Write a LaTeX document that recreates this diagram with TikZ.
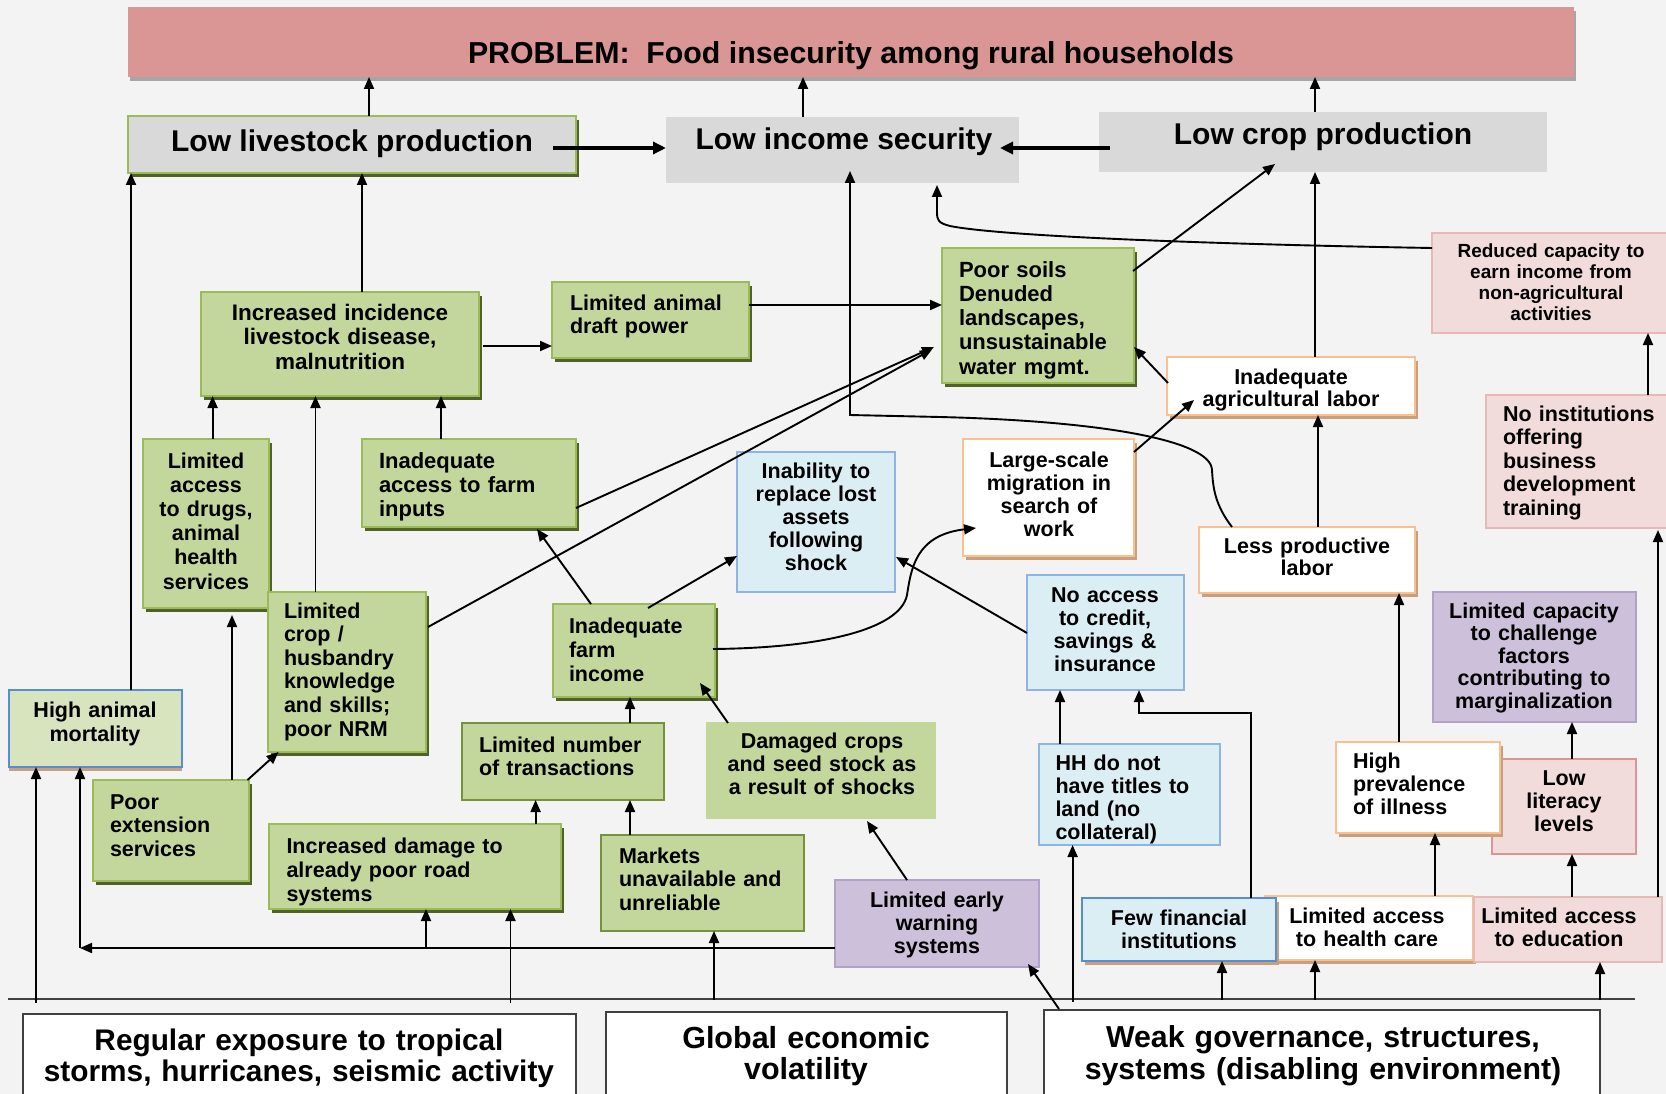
\documentclass[tikz,border=0pt]{standalone}
\usepackage{fontspec}
\setmainfont{Liberation Sans}
\usetikzlibrary{arrows.meta,shadows,calc}

\definecolor{bg}{HTML}{F3F3F3}
\definecolor{probfill}{HTML}{DA9694}
\definecolor{probshadow}{HTML}{A6A6A6}
\definecolor{grayfill}{HTML}{D9D9D9}
\definecolor{grfill}{HTML}{C3D69B}
\definecolor{grline}{HTML}{9BBB59}
\definecolor{grdark}{HTML}{4F6228}
\definecolor{grmid}{HTML}{76923C}
\definecolor{orline}{HTML}{FAC090}
\definecolor{shtan}{HTML}{C9A07E}
\definecolor{blfill}{HTML}{DBEEF4}
\definecolor{blline}{HTML}{8EB4E3}
\definecolor{bldark}{HTML}{558ED5}
\definecolor{pufill}{HTML}{CCC0DA}
\definecolor{puline}{HTML}{B3A2C7}
\definecolor{pkfill}{HTML}{F2DCDB}
\definecolor{pkline}{HTML}{E6B9B8}
\definecolor{pkdark}{HTML}{D99694}
\definecolor{hmfill}{HTML}{D7E4BD}
\definecolor{framec}{HTML}{404040}

\newcommand\fz[2]{\fontsize{#1}{#2}\selectfont\bfseries}

\tikzset{
  cellbase/.style={anchor=north west, inner sep=0pt, outer sep=0pt},
  probbox/.style={cellbase, fill=probfill,
    general shadow={fill=probshadow, shadow xshift=2pt, shadow yshift=-4pt}},
  greybox/.style={cellbase, fill=grayfill},
  greygbox/.style={cellbase, fill=grayfill, draw=grline, line width=1.5pt,
    general shadow={fill=grdark, shadow xshift=3pt, shadow yshift=-4pt}},
  gbox/.style={cellbase, fill=grfill, draw=grline, line width=1.5pt,
    general shadow={fill=grdark, shadow xshift=3pt, shadow yshift=-4pt}},
  gflat/.style={cellbase, fill=grfill, draw=grmid, line width=1.2pt},
  gbare/.style={cellbase, fill=grfill},
  obox/.style={cellbase, fill=white, draw=orline, line width=1.5pt,
    general shadow={fill=shtan, shadow xshift=3pt, shadow yshift=-4pt}},
  bbox/.style={cellbase, fill=blfill, draw=blline, line width=1.2pt},
  bboxsh/.style={cellbase, fill=blfill, draw=bldark, line width=2pt,
    general shadow={fill=shtan, shadow xshift=3pt, shadow yshift=-4pt}},
  mortbox/.style={cellbase, fill=hmfill, draw=bldark, line width=1.5pt,
    general shadow={fill=shtan, shadow xshift=0pt, shadow yshift=-4pt}},
  pbox/.style={cellbase, fill=pufill, draw=puline, line width=1.2pt},
  kbox/.style={cellbase, fill=pkfill, draw=pkline, line width=1.2pt},
  kboxd/.style={cellbase, fill=pkfill, draw=pkdark, line width=1.2pt},
  rootbox/.style={cellbase, fill=white, draw=framec, line width=1.6pt},
  lbl/.style={inner sep=0pt, outer sep=0pt, font=\fz{21.5}{23.5}},
  cl/.style={lbl, anchor=base, align=center, text width=#1},
  ll/.style={lbl, anchor=base west, align=left, text width=#1},
  arr/.style={draw=black, line width=1.9pt, -{Triangle[length=12pt,width=10pt]}},
  fat/.style={draw=black, line width=3.4pt, -{Triangle[length=13pt,width=12pt]}},
}

% box: name, style, x0, y0, width, height
\newcommand\cell[6]{\node[#2, minimum width=#5, minimum height=#6] (#1) at (#3,#4) {};}

\begin{document}
\begin{tikzpicture}[x=1pt, y=-1pt]
\useasboundingbox (0,0) rectangle (1666,1094);
\fill[bg] (0,0) rectangle (1666,1094);

% ---- problem and direct effects
\cell{title}{probbox}{128}{7}{1446}{70}
\node[lbl, anchor=base, font=\fz{30.3}{32}] (title-t) at (851,64) {PROBLEM:\ \ Food insecurity among rural households};

\cell{lowlive}{greygbox}{128}{116}{448}{57}
\node[lbl, anchor=base, font=\fz{30}{32}] (lowlive-t) at (352,152) {Low livestock production};
\cell{lowinc}{greybox}{666}{117}{353}{66}
\node[lbl, anchor=base, font=\fz{30}{32}] (lowinc-t) at (844,150) {Low income security};
\cell{lowcrop}{greybox}{1099}{112}{448}{60}
\node[lbl, anchor=base, font=\fz{30}{32}] (lowcrop-t) at (1323,145) {Low crop production};

% ---- right column
\cell{redcap}{kbox}{1432}{233}{240}{100}
\node[cl=230, font=\fz{19}{20.7}] (redcap-t) at (1551,258) {Reduced capacity to\\earn income from\\non-agricultural\\activities};
\cell{noinst}{kbox}{1486}{395}{190}{133}
\node[ll=170] (noinst-t) at (1503,421) {No institutions\\offering\\business\\development\\training};
\cell{limcap}{pbox}{1433}{592}{203}{130}
\node[cl=200, font=\fz{21.5}{22.5}] (limcap-t) at (1534,618) {Limited capacity\\to challenge\\factors\\contributing to\\marginalization};
\cell{lit}{kboxd}{1492}{759}{144}{95}
\node[cl=140, font=\fz{21.5}{23}] (lit-t) at (1564,785) {Low\\literacy\\levels};
\cell{prev}{obox}{1336}{742}{164}{91}
\node[ll=150, font=\fz{21.5}{23}] (prev-t) at (1353,768) {High\\prevalence\\of illness};

% ---- labour chain
\cell{agri}{obox}{1167}{357}{248}{58}
\node[cl=240, font=\fz{21.5}{22.7}] (agri-t) at (1291,384) {Inadequate\\agricultural labor};
\cell{less}{obox}{1199}{527}{216}{66}
\node[cl=210, font=\fz{21.5}{22.7}] (less-t) at (1307,553) {Less productive\\labor};
\cell{migr}{obox}{963}{439}{171}{117}
\node[cl=165, font=\fz{21.5}{23}] (migr-t) at (1049,467) {Large-scale\\migration in\\search of\\work};

% ---- soils and livestock
\cell{soil}{gbox}{942}{248}{192}{135}
\node[ll=175, font=\fz{22}{24.3}] (soil-t) at (959,277) {Poor soils\\Denuded\\landscapes,\\unsustainable\\water mgmt.};
\cell{inc}{gbox}{201}{292}{278}{104}
\node[cl=275, font=\fz{22.5}{24.5}] (inc-t) at (340,320) {Increased incidence\\livestock disease,\\malnutrition};
\cell{draft}{gbox}{552}{282}{197}{76}
\node[ll=180, font=\fz{21.5}{24}] (draft-t) at (570,310) {Limited animal\\draft power};
\cell{drugs}{gbox}{143}{439}{126}{169}
\node[cl=124, font=\fz{21.5}{24.2}] (drugs-t) at (206,468) {Limited\\access\\to drugs,\\animal\\health\\services};
\cell{inputs}{gbox}{362}{439}{214}{88}
\node[ll=195, font=\fz{22}{24}] (inputs-t) at (379,468) {Inadequate\\access to farm\\inputs};
\cell{crop}{gbox}{268}{592}{158}{160}
\node[ll=140, font=\fz{21.5}{23.6}] (crop-t) at (284,618) {Limited\\crop /\\husbandry\\knowledge\\and skills;\\poor NRM};
\cell{mort}{mortbox}{9}{690}{173}{77}
\node[cl=170, font=\fz{21.5}{24}] (mort-t) at (95,717) {High animal\\mortality};
\cell{ext}{gbox}{93}{780}{156}{101}
\node[ll=140, font=\fz{21.5}{23.5}] (ext-t) at (110,809) {Poor\\extension\\services};
\cell{dmg}{gbox}{269}{824}{292}{85}
\node[ll=270, font=\fz{21.5}{24}] (dmg-t) at (286.5,853) {Increased damage to\\already poor road\\systems};

% ---- income and markets
\cell{num}{gflat}{462}{723}{202}{77}
\node[ll=185, font=\fz{21.5}{23}] (num-t) at (479,752) {Limited number\\of transactions};
\cell{farminc}{gbox}{553}{604}{162}{93}
\node[ll=150, font=\fz{21.5}{24}] (farminc-t) at (569,633) {Inadequate\\farm\\income};
\cell{markets}{gflat}{601}{835}{203}{96}
\node[ll=185, font=\fz{21.5}{23.5}] (markets-t) at (619,863) {Markets\\unavailable and\\unreliable};
\cell{damaged}{gbare}{706}{722}{230}{97}
\node[cl=228, font=\fz{21.5}{23}] (damaged-t) at (822,748) {Damaged crops\\and seed stock as\\a result of shocks};
\cell{inab}{bbox}{737}{452}{158}{140}
\node[cl=155, font=\fz{21.5}{23}] (inab-t) at (816,478) {Inability to\\replace lost\\assets\\following\\shock};
\cell{noacc}{bbox}{1027}{575}{157}{115}
\node[cl=155, font=\fz{21.5}{23}] (noacc-t) at (1105,602) {No access\\to credit,\\savings \&\\insurance};
\cell{hh}{bbox}{1039}{744}{181}{101}
\node[ll=165, font=\fz{21.5}{23}] (hh-t) at (1055.5,770) {HH do not\\have titles to\\land (no\\collateral)};
\cell{early}{pbox}{835}{880}{204}{87}
\node[cl=200, font=\fz{21.5}{23}] (early-t) at (937,907) {Limited early\\warning\\systems};

% ---- governance row
\cell{health}{obox}{1265}{896}{208}{64}
\node[cl=196, font=\fz{21.5}{23}] (health-t) at (1367,923) {Limited access\\to health care};
\cell{fewfin}{bboxsh}{1082}{898}{194}{63}
\node[cl=190, font=\fz{21.5}{23}] (fewfin-t) at (1179,925) {Few financial\\institutions};
\cell{edu}{kbox}{1474}{897}{188}{65}
\node[cl=186, font=\fz{21.5}{23}] (edu-t) at (1559,923) {Limited access\\to education};

% ---- root causes
\cell{regexp}{rootbox}{23}{1014}{553}{100}
\node[cl=550, font=\fz{29.8}{31.5}] (regexp-t) at (299,1050) {Regular exposure to tropical\\storms, hurricanes, seismic activity};
\cell{global}{rootbox}{606}{1012}{401}{100}
\node[cl=400, font=\fz{30.5}{31.5}] (global-t) at (806,1048) {Global economic\\volatility};
\cell{weak}{rootbox}{1044}{1010}{556}{100}
\node[cl=555, font=\fz{30.3}{32}] (weak-t) at (1323,1047) {Weak governance, structures,\\systems (disabling environment)};

\coordinate (sepL) at (8,999);
\coordinate (sepR) at (1635,999);
\draw[line width=1.4pt, draw=framec] (sepL) -- (sepR);

% ---- connectors: effects to problem
\draw[arr] (369,0 |- lowlive.north) -- (369,0 |- title.south);
\draw[arr] (803,0 |- lowinc.north) -- (803,0 |- title.south);
\draw[arr] (1315,0 |- lowcrop.north) -- (1315,0 |- title.south);
\draw[fat] ($(lowlive.east)+(-23,3.5)$) -- (lowinc.west |- 0,148);
\draw[fat] ($(lowcrop.west)+(11,6)$) -- ($(lowinc.east)+(-19,-2)$);

% ---- livestock branch
\draw[arr] (131,0 |- mort.north) -- (131,0 |- lowlive.south);
\draw[arr] (362,0 |- inc.north) -- (362,0 |- lowlive.south);
\draw[arr] ($(inc.east)+(4,2)$) -- (draft.west |- 0,346);
\draw[arr] (212.6,0 |- drugs.north) -- (212.6,0 |- inc.south);
\draw[arr] (315.5,0 |- crop.north) -- (315.5,0 |- inc.south);
\draw[arr] (441,0 |- inputs.north) -- (441,0 |- inc.south);
\draw[arr] (draft.east |- 0,305) -- (soil.west |- 0,305);
\draw[arr] (inputs.east |- 0,508) -- ($(soil.west)+(-8,31.5)$);
\draw[arr] ($(crop.east)+(2,-45)$) -- ($(soil.west)+(-10,34)$);
\draw[arr] ($(ext.north west)+(139,0)$) -- ($(drugs.south)+(26,7)$);
\draw[arr] ($(ext.north east)+(-1.5,0)$) -- ($(crop.south west)+(10.5,0)$);

% ---- crops and labour
\draw[arr] ($(soil.north east)+(-1,23)$) -- ($(lowcrop.south west)+(176,-8)$);
\draw[arr] ($(agri.north west)+(1,26)$) -- ($(soil.south east)+(0,-36)$);
\draw[arr] ($(migr.north east)+(0,13)$) -- ($(agri.south west)+(27,-15)$);
\draw[arr] (1318,0 |- less.north) -- (1318,0 |- agri.south);
\draw[arr] (1315,0 |- agri.north) -- (1315,0 |- lowcrop.south);
\draw[arr] ($(less.north west)+(33,0)$) .. controls (1215,505) and (1213,488) .. (1212,470)
  .. controls (1211,440) and (1100,421) .. (940,417) -- (850,415) -- ($(lowinc.south west)+(184,-12)$);
\draw[arr] (redcap.west |- 0,248) .. controls (1200,244) and (1000,236) .. (950,226)
  .. controls (938,223) and (937,220) .. (937,212) -- ($(lowinc.south west)+(271,2)$);
\draw[arr] (1648,0 |- noinst.north) -- (1648,0 |- redcap.south);
\draw[arr] (1658,0 |- edu.north) -- ($(noinst.south west)+(172,2)$);
\draw[arr] (1399,0 |- prev.north) -- (1399,0 |- less.south);
\draw[arr] (1435,0 |- health.north) -- (1435,0 |- prev.south);
\draw[arr] (1572,0 |- lit.north) -- (1572,0 |- limcap.south);
\draw[arr] (1572,0 |- edu.north) -- (1572,0 |- lit.south);

% ---- income branch
\draw[arr] ($(farminc.north west)+(38,0)$) -- ($(inputs.south east)+(-39,2)$);
\draw[arr] ($(farminc.north west)+(95,4)$) -- ($(inab.west)+(0,34)$);
\draw[arr] ($(farminc.east)+(-2,-1.5)$) .. controls (820,648) and (900,630) .. (907,595)
  .. controls (911,570) and (915,535) .. ($(migr.west)+(13,30.5)$);
\draw[arr] (noacc.west |- 0,633) -- ($(inab.east)+(1,35)$);
\draw[arr] (630,0 |- num.north) -- (630,0 |- farminc.south);
\draw[arr] (535.6,0 |- dmg.north) -- (535.6,0 |- num.south);
\draw[arr] (630,0 |- markets.north) -- (630,0 |- num.south);
\draw[arr] ($(damaged.north west)+(22,1)$) -- ($(farminc.south east)+(-15,-14)$);
\draw[arr] ($(early.north west)+(72,0)$) -- ($(damaged.south east)+(-69,2)$);
\draw[arr] (1060,0 |- hh.north) -- (1060,0 |- noacc.south);
\draw[arr] (1251,0 |- fewfin.north) -- (1251,713) -- (1139,713) -- (1139,0 |- noacc.south);

% ---- early warning feed
\coordinate (elbow) at (80,948);
\draw[arr] (early.west |- elbow) -- (elbow);
\draw[arr] (elbow) -- (elbow |- mort.south);
\draw[arr] (426,0 |- elbow) -- (426,0 |- dmg.south);

% ---- root causes upward
\draw[arr] ($(regexp.north west)+(13,-11)$) -- (36,0 |- mort.south);
\draw[arr] ($(regexp.north west)+(487.5,-11)$) -- (510.5,0 |- dmg.south);
\draw[arr] ($(global.north west)+(108,-12)$) -- (714,0 |- markets.south);
\draw[arr] ($(weak.north west)+(15,-1)$) -- ($(early.south east)+(-11,-3)$);
\draw[arr] ($(weak.north west)+(28.6,-8)$) -- (1072.6,0 |- hh.south);
\draw[arr] ($(weak.north west)+(178,-10)$) -- (1222,0 |- fewfin.south);
\draw[arr] ($(weak.north west)+(271,-10)$) -- (1315,0 |- health.south);
\draw[arr] ($(weak.north west)+(556,-10)$) -- (1600,0 |- edu.south);
\end{tikzpicture}
\end{document}
